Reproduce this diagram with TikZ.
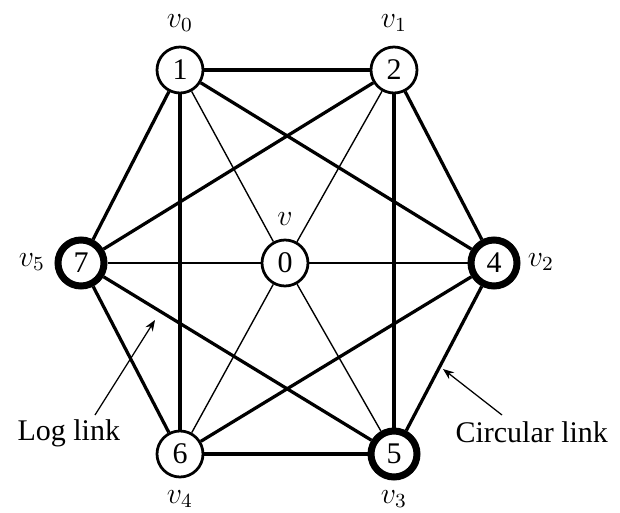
\documentclass[tikz,border=0pt]{standalone}
\usepackage{fontspec}
\setmainfont{Liberation Serif}
\usetikzlibrary{arrows.meta}
\begin{document}
\begin{tikzpicture}[x=0.4pt,y=-0.4pt,
  vtx/.style={circle,draw,line width=1.1pt,minimum size=18.4pt,inner sep=0pt,fill=white,font=\fontsize{12}{14}\selectfont},
  bigvtx/.style={vtx,line width=2.8pt},
  lbl/.style={anchor=base,inner sep=0pt,font=\fontsize{12}{14}\selectfont},
  thickedge/.style={line width=1.3pt},
  thinedge/.style={line width=0.55pt},
  pointer/.style={line width=0.5pt,-{Stealth[length=4.4pt,width=3.4pt]}}]
\useasboundingbox (0,0) rectangle (620,513);
% vertices
\node[vtx] (n1) at (180,70) {1};
\node[vtx] (n2) at (394,70) {2};
\node[bigvtx] (n7) at (81,263) {7};
\node[vtx] (n0) at (285,263) {0};
\node[bigvtx] (n4) at (494,263) {4};
\node[vtx] (n6) at (180,454) {6};
\node[bigvtx] (n5) at (394,454) {5};
% vertex labels
\node[lbl] (l0) at (180,27) {$v_0$};
\node[lbl] (l1) at (394,27) {$v_1$};
\node[lbl] (l5) at (32,266) {$v_5$};
\node[lbl] (l2) at (541,266) {$v_2$};
\node[lbl] (l4) at (180,503) {$v_4$};
\node[lbl] (l3) at (394,503) {$v_3$};
\node[lbl] (lv) at (285,225) {$v$};
% circular (hexagon) links
\draw[thickedge] (n1) -- (n2);
\draw[thickedge] (n2) -- (n4);
\draw[thickedge] (n4) -- (n5);
\draw[thickedge] (n5) -- (n6);
\draw[thickedge] (n6) -- (n7);
\draw[thickedge] (n7) -- (n1);
% log links
\draw[thickedge] (n1) -- (n6);
\draw[thickedge] (n2) -- (n5);
\draw[thickedge] (n1) -- (n4);
\draw[thickedge] (n2) -- (n7);
\draw[thickedge] (n7) -- (n5);
\draw[thickedge] (n4) -- (n6);
% centre links
\draw[thinedge] (n0) -- (n1);
\draw[thinedge] (n0) -- (n2);
\draw[thinedge] (n0) -- (n7);
\draw[thinedge] (n0) -- (n4);
\draw[thinedge] (n0) -- (n6);
\draw[thinedge] (n0) -- (n5);
% annotations
\node[lbl,anchor=base west] (loglbl) at (17,440) {Log link};
\node[lbl,anchor=base west] (circlbl) at (455,442) {Circular link};
\coordinate (logs) at (95,415);
\coordinate (logt) at (155,320);
\coordinate (circs) at (502,415);
\coordinate (circt) at (443,369);
\draw[pointer] (logs) -- (logt);
\draw[pointer] (circs) -- (circt);
\end{tikzpicture}
\end{document}
